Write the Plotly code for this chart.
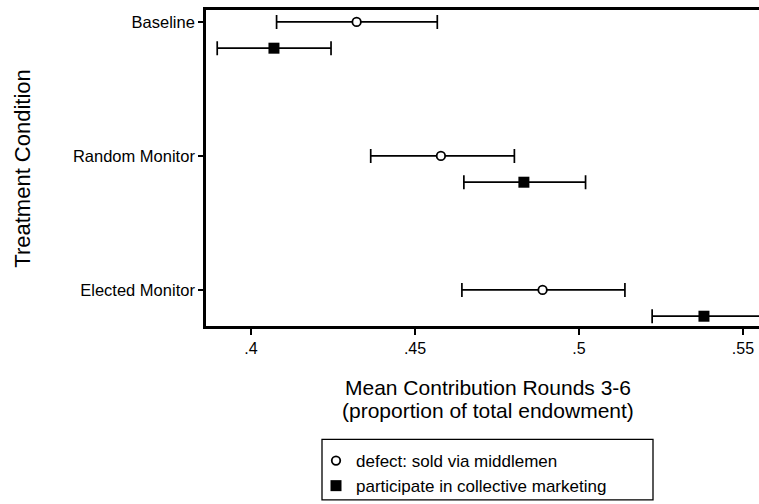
import plotly.graph_objects as go

# Treatment conditions (top to bottom) and their estimates with confidence bounds
categories = ["Baseline", "Random Monitor", "Elected Monitor"]

defect_mean = [0.4322, 0.4579, 0.4889]
defect_lo = [0.4078, 0.4365, 0.4643]
defect_hi = [0.4568, 0.4803, 0.5140]

collective_mean = [0.4070, 0.4832, 0.5381]
collective_lo = [0.3897, 0.4649, 0.5223]
collective_hi = [0.4244, 0.5020, 0.5555]

x_tickvals = [0.4, 0.45, 0.5, 0.55]
x_ticktext = [".4", ".45", ".5", ".55"]

FONT = "Liberation Sans, Arial, Helvetica, sans-serif"

# plot-area geometry in pixels
FIG_W, FIG_H = 759, 504
L, T, B = 206, 10, 328
W, H = FIG_W - L, B - T


def px_x(px):
    return (px - L) / W


def px_y(py):
    return (B - py) / H


row_pos = [i + 1 for i in range(len(categories))]
offset = 0.196  # second series drawn just below each condition

fig = go.Figure()

fig.add_trace(go.Scatter(
    x=defect_mean,
    y=row_pos,
    mode="markers",
    name="defect: sold via middlemen",
    marker=dict(symbol="circle", size=8.5, color="white",
                line=dict(color="black", width=1.8)),
    error_x=dict(type="data", symmetric=False,
                 array=[h - m for h, m in zip(defect_hi, defect_mean)],
                 arrayminus=[m - l for m, l in zip(defect_mean, defect_lo)],
                 color="black", thickness=1.7, width=7),
))

fig.add_trace(go.Scatter(
    x=collective_mean,
    y=[p + offset for p in row_pos],
    mode="markers",
    name="participate in collective marketing",
    marker=dict(symbol="square", size=11, color="black",
                line=dict(color="black", width=0)),
    error_x=dict(type="data", symmetric=False,
                 array=[h - m for h, m in zip(collective_hi, collective_mean)],
                 arrayminus=[m - l for m, l in zip(collective_mean, collective_lo)],
                 color="black", thickness=1.7, width=7),
))

fig.update_layout(
    width=FIG_W, height=FIG_H,
    margin=dict(l=L, r=0, t=T, b=FIG_H - B, pad=0),
    paper_bgcolor="white", plot_bgcolor="white",
    font=dict(family=FONT, color="black", size=16),
    showlegend=True,
    legend=dict(x=px_x(316), y=px_y(446), xanchor="left", yanchor="top",
                bgcolor="rgba(0,0,0,0)", borderwidth=0,
                font=dict(size=17, family=FONT), traceorder="normal"),
    xaxis=dict(range=[0.38628, 0.55488], tickvals=x_tickvals, ticktext=x_ticktext,
               showgrid=False, zeroline=False, showline=True, linecolor="black",
               linewidth=2.6, mirror=True, ticks="outside", ticklen=6,
               tickwidth=1.5, tickcolor="black", tickfont=dict(size=16)),
    yaxis=dict(range=[3.269, 0.911], tickvals=row_pos, ticktext=categories,
               showgrid=False, zeroline=False, showline=True, linecolor="black",
               linewidth=2.6, mirror=False, ticks="outside", ticklen=5,
               tickwidth=1.5, tickcolor="black", tickfont=dict(size=16.5)),
    shapes=[dict(type="rect", xref="paper", yref="paper",
                 x0=px_x(322), x1=px_x(653), y0=px_y(503), y1=px_y(442),
                 line=dict(color="black", width=1.3), fillcolor="rgba(0,0,0,0)")],
    annotations=[
        dict(text="Treatment Condition", xref="paper", yref="paper",
             x=px_x(21.7), y=px_y(169), textangle=-90, showarrow=False,
             xanchor="center", yanchor="middle", font=dict(size=22)),
        dict(text="Mean Contribution Rounds 3-6", xref="paper", yref="paper",
             x=px_x(488), y=px_y(389.5), showarrow=False,
             xanchor="center", yanchor="middle", font=dict(size=21)),
        dict(text="(proportion of total endowment)", xref="paper", yref="paper",
             x=px_x(488), y=px_y(413.5), showarrow=False,
             xanchor="center", yanchor="middle", font=dict(size=21)),
    ],
)

fig.write_html("out.html")
